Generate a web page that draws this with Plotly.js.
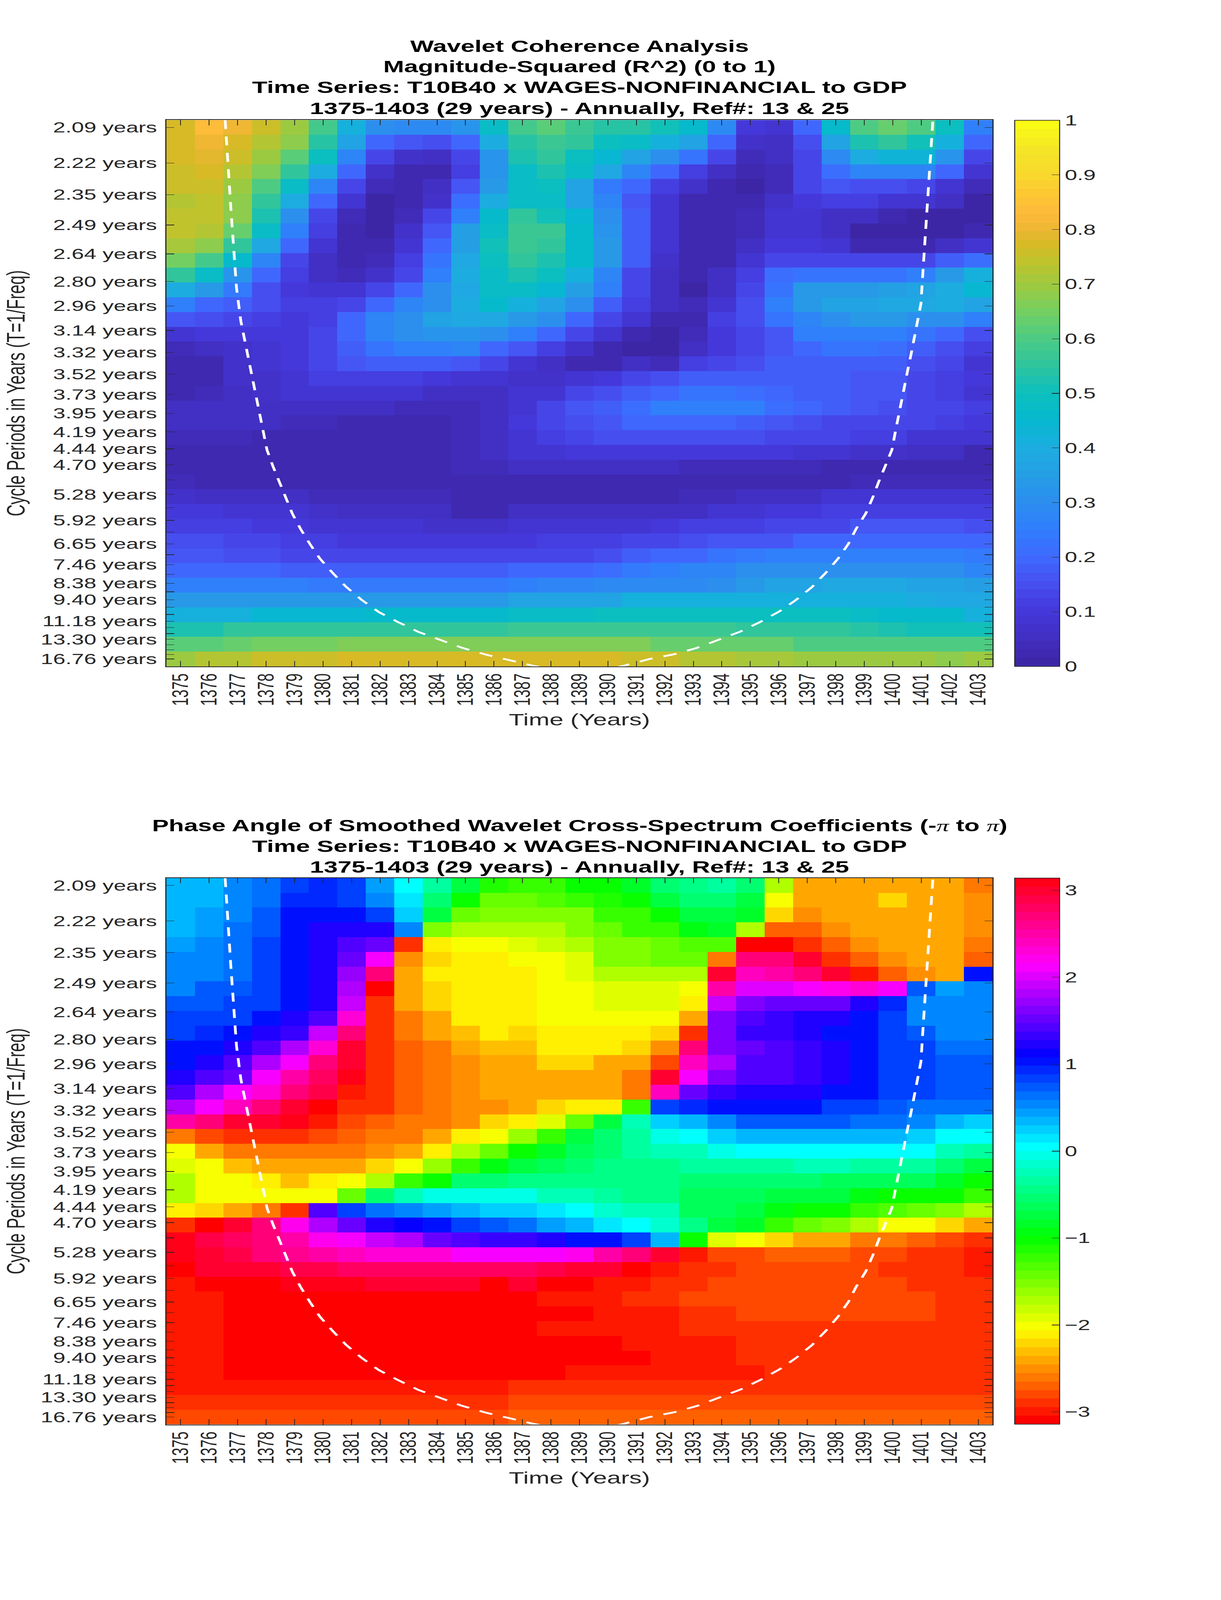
<!DOCTYPE html>
<html>
<head>
<meta charset="utf-8">
<script src="https://cdn.plot.ly/plotly-3.0.1.min.js"></script>
<style>
  html, body { margin: 0; padding: 0; background: #fff; overflow: hidden; }
  #chart { width: 3125px; height: 6252px; transform-origin: 0 0; }
</style>
</head>
<body>
<div id="chart"></div>
<script>
const years = [1375,1376,1377,1378,1379,1380,1381,1382,1383,1384,1385,1386,1387,1388,1389,1390,1391,1392,1393,1394,1395,1396,1397,1398,1399,1400,1401,1402,1403];

// cycle periods top row -> bottom row, one tick per row
const periods = [2.09,2.22,2.35,2.49,2.64,2.80,2.96,3.14,3.32,3.52,3.73,3.95,4.19,4.44,4.70,4.98,5.28,5.59,5.92,6.27,6.65,7.05,7.46,7.91,8.38,8.88,9.40,9.96,10.55,11.18,11.84,12.55,13.30,14.09,14.92,15.81,16.76];
const labelledPeriods = [2.09,2.22,2.35,2.49,2.64,2.80,2.96,3.14,3.32,3.52,3.73,3.95,4.19,4.44,4.70,5.28,5.92,6.65,7.46,8.38,9.40,11.18,13.30,16.76];

// R^2 per row, top row first
const coherence = [
  [.78,.83,.80,.76,.69,.58,.42,.30,.29,.29,.32,.48,.59,.61,.57,.54,.54,.50,.46,.29,.10,.08,.19,.46,.60,.64,.60,.49,.25],
  [.77,.81,.77,.73,.68,.54,.37,.20,.16,.15,.20,.40,.54,.57,.55,.49,.47,.41,.36,.20,.07,.05,.15,.36,.52,.56,.51,.42,.19],
  [.77,.79,.76,.70,.62,.49,.28,.13,.07,.05,.14,.32,.52,.55,.49,.44,.36,.30,.22,.13,.04,.05,.13,.29,.40,.43,.43,.32,.13],
  [.76,.77,.73,.67,.55,.40,.20,.07,.02,.03,.12,.32,.47,.52,.47,.39,.28,.20,.11,.06,.02,.04,.13,.21,.27,.27,.27,.19,.08],
  [.75,.76,.70,.60,.47,.28,.14,.04,.02,.06,.16,.34,.48,.49,.37,.24,.20,.11,.07,.02,.01,.04,.13,.16,.15,.15,.13,.09,.04],
  [.72,.74,.68,.56,.40,.20,.09,.01,.02,.07,.21,.40,.48,.47,.37,.27,.17,.09,.03,.02,.03,.07,.10,.12,.11,.09,.08,.05,.01],
  [.74,.74,.68,.52,.31,.14,.04,.01,.04,.14,.25,.46,.55,.51,.44,.30,.18,.09,.03,.02,.04,.08,.09,.06,.05,.03,.01,.01,.01],
  [.74,.72,.64,.47,.25,.12,.03,.01,.07,.17,.35,.48,.57,.57,.46,.32,.18,.09,.03,.02,.04,.08,.08,.05,.01,.01,.01,.01,.02],
  [.71,.68,.56,.38,.19,.09,.02,.02,.09,.20,.35,.50,.57,.56,.46,.33,.18,.08,.02,.02,.05,.10,.10,.08,.03,.03,.03,.05,.08],
  [.65,.59,.46,.27,.14,.05,.03,.04,.11,.22,.38,.49,.55,.53,.46,.33,.18,.07,.02,.03,.09,.14,.14,.14,.13,.13,.14,.18,.21],
  [.56,.48,.32,.19,.12,.06,.04,.07,.14,.25,.40,.47,.52,.49,.41,.27,.14,.06,.02,.05,.12,.21,.23,.23,.23,.23,.25,.33,.41],
  [.40,.34,.24,.15,.10,.08,.09,.14,.20,.31,.39,.47,.47,.45,.35,.25,.13,.05,.01,.05,.13,.22,.33,.33,.34,.35,.37,.40,.45],
  [.25,.20,.18,.15,.11,.11,.14,.20,.27,.31,.40,.46,.41,.37,.30,.18,.11,.05,.04,.09,.15,.25,.34,.36,.37,.38,.39,.40,.37],
  [.16,.15,.14,.12,.10,.12,.19,.27,.31,.36,.39,.39,.34,.30,.20,.14,.09,.03,.03,.11,.15,.23,.28,.30,.33,.33,.30,.31,.26],
  [.09,.10,.10,.10,.10,.14,.19,.27,.30,.32,.32,.30,.26,.19,.14,.08,.03,.01,.04,.10,.14,.17,.26,.25,.25,.25,.22,.19,.15],
  [.04,.06,.07,.08,.10,.14,.18,.23,.25,.25,.27,.20,.17,.12,.07,.02,.01,.01,.05,.10,.14,.17,.20,.23,.23,.21,.18,.15,.11],
  [.02,.03,.07,.08,.10,.14,.16,.18,.18,.18,.16,.14,.09,.05,.03,.02,.05,.04,.11,.14,.15,.18,.18,.18,.18,.18,.15,.13,.09],
  [.02,.03,.07,.07,.09,.11,.12,.12,.11,.10,.09,.08,.07,.07,.09,.10,.13,.15,.18,.18,.18,.18,.18,.18,.17,.16,.14,.12,.10],
  [.03,.04,.06,.07,.08,.08,.08,.08,.08,.06,.05,.06,.08,.09,.13,.15,.18,.20,.23,.23,.21,.20,.18,.18,.17,.16,.14,.11,.09],
  [.06,.06,.06,.06,.06,.06,.05,.05,.04,.04,.04,.06,.08,.13,.16,.18,.21,.25,.26,.26,.25,.21,.19,.18,.16,.15,.14,.13,.11],
  [.06,.06,.06,.06,.04,.04,.03,.03,.03,.03,.04,.06,.10,.13,.15,.17,.20,.20,.20,.20,.18,.16,.15,.14,.14,.14,.13,.12,.10],
  [.04,.04,.04,.02,.02,.02,.02,.02,.02,.02,.04,.05,.09,.12,.13,.15,.15,.15,.15,.15,.15,.13,.13,.13,.12,.11,.09,.08,.08],
  [.02,.02,.02,.02,.02,.02,.02,.02,.02,.03,.04,.05,.09,.09,.10,.10,.10,.10,.10,.10,.10,.10,.09,.09,.07,.07,.05,.05,.03],
  [.02,.02,.02,.02,.02,.02,.02,.03,.03,.03,.04,.04,.05,.05,.05,.05,.05,.05,.04,.04,.04,.04,.04,.03,.03,.03,.03,.03,.03],
  [.04,.03,.03,.03,.03,.03,.03,.03,.03,.03,.03,.03,.03,.03,.02,.02,.02,.02,.02,.02,.02,.02,.03,.03,.04,.04,.04,.04,.04],
  [.07,.06,.05,.05,.05,.04,.04,.04,.04,.04,.02,.02,.03,.03,.02,.02,.02,.02,.04,.04,.05,.05,.05,.08,.08,.08,.08,.08,.08],
  [.10,.10,.09,.09,.08,.07,.05,.05,.05,.05,.03,.03,.05,.05,.05,.05,.05,.06,.06,.08,.09,.10,.10,.11,.12,.12,.12,.12,.12],
  [.12,.11,.11,.10,.10,.09,.09,.08,.08,.07,.07,.07,.08,.08,.08,.09,.09,.10,.12,.12,.12,.13,.14,.14,.16,.16,.16,.16,.15],
  [.15,.15,.13,.13,.12,.12,.10,.10,.10,.10,.10,.10,.10,.11,.11,.12,.13,.14,.15,.16,.16,.17,.19,.19,.19,.19,.19,.19,.19],
  [.16,.16,.15,.15,.14,.14,.13,.13,.13,.13,.13,.14,.13,.13,.14,.15,.18,.19,.20,.23,.24,.25,.25,.25,.25,.25,.25,.25,.24],
  [.20,.20,.19,.19,.18,.18,.18,.18,.18,.18,.18,.18,.19,.20,.20,.21,.24,.26,.27,.28,.30,.30,.30,.31,.31,.31,.30,.30,.28],
  [.26,.26,.25,.25,.25,.24,.24,.24,.24,.24,.24,.24,.26,.27,.27,.29,.29,.29,.29,.31,.34,.36,.37,.38,.38,.38,.37,.36,.35],
  [.33,.33,.33,.33,.33,.33,.33,.33,.33,.33,.33,.33,.36,.37,.37,.37,.42,.42,.42,.42,.42,.42,.42,.42,.41,.41,.40,.39,.38],
  [.42,.42,.42,.45,.45,.45,.45,.46,.46,.46,.46,.46,.47,.47,.47,.49,.49,.49,.49,.49,.49,.49,.49,.49,.47,.46,.46,.46,.42],
  [.53,.53,.55,.55,.55,.56,.56,.56,.56,.56,.56,.56,.57,.57,.57,.57,.57,.57,.57,.57,.55,.55,.55,.55,.54,.53,.51,.51,.51],
  [.62,.62,.63,.65,.65,.65,.66,.66,.66,.66,.66,.66,.66,.66,.66,.66,.66,.64,.64,.64,.63,.63,.60,.60,.60,.60,.60,.60,.60],
  [.70,.72,.72,.75,.75,.75,.77,.77,.77,.77,.77,.77,.77,.77,.77,.77,.75,.75,.72,.72,.71,.71,.70,.70,.70,.70,.69,.68,.70]
];

// phase angle in radians per row, top row first
const phaseAngle = [
  [.30,.38,.58,.65,.80,.90,.82,.44,0,-.38,-.70,-1.15,-1.18,-1.18,-1.05,-1.05,-.85,-.58,-.45,-.32,-.58,-1.74,-2.36,-2.36,-2.36,-2.36,-2.36,-2.44,-2.62],
  [.30,.38,.58,.65,.90,.92,.88,.58,.15,-.52,-1.05,-1.42,-1.45,-1.30,-1.18,-1.10,-1.05,-.72,-.58,-.52,-.72,-1.98,-2.36,-2.36,-2.36,-2.25,-2.36,-2.44,-2.55],
  [.38,.48,.58,.75,1.0,1.05,1.05,.88,.28,-.72,-1.42,-1.57,-1.57,-1.57,-1.48,-1.25,-1.18,-1.05,-.72,-.72,-.85,-2.25,-2.55,-2.44,-2.36,-2.36,-2.36,-2.44,-2.55],
  [.38,.48,.65,.75,1.05,1.18,1.25,1.18,.58,-1.52,-1.74,-1.74,-1.74,-1.74,-1.57,-1.45,-1.25,-1.18,-.92,-.85,-1.70,-2.72,-2.72,-2.55,-2.44,-2.36,-2.36,-2.44,-2.55],
  [.48,.58,.65,.88,1.05,1.25,1.38,1.52,-2.93,-2.09,-1.98,-1.98,-1.95,-1.83,-1.74,-1.57,-1.52,-1.45,-1.30,-1.30,-3.14,-3.14,-2.93,-2.72,-2.55,-2.44,-2.36,-2.44,-2.62],
  [.52,.58,.65,.88,1.05,1.25,1.57,2.09,-2.55,-2.20,-2.09,-2.09,-1.98,-1.98,-1.88,-1.57,-1.57,-1.45,-1.45,-2.58,2.68,2.73,3.0,-2.93,-2.72,-2.55,-2.44,-2.44,-2.72],
  [.58,.58,.65,.88,1.05,1.25,1.70,2.73,-2.44,-2.15,-2.15,-2.09,-2.09,-1.98,-1.88,-1.74,-1.74,-1.70,-1.74,2.95,2.40,2.50,2.73,2.95,-3.04,-2.72,-2.55,-2.44,1.05],
  [.58,.72,.75,.88,1.0,1.25,1.78,-3.14,-2.44,-2.25,-2.15,-2.09,-2.09,-1.98,-1.98,-1.88,-1.88,-1.88,-1.98,2.50,2.0,2.0,2.09,2.25,2.35,2.15,.72,.48,.58],
  [.72,.72,.80,.88,1.0,1.25,1.88,-2.93,-2.44,-2.25,-2.15,-2.09,-2.09,-1.98,-1.98,-1.88,-1.88,-1.88,-2.09,1.88,1.65,1.57,1.57,1.50,1.25,.92,.58,.52,.52],
  [.80,.80,.88,1.0,1.18,1.45,2.32,-2.93,-2.58,-2.40,-2.15,-2.09,-2.09,-1.98,-1.98,-1.98,-1.98,-1.98,-2.36,1.65,1.45,1.32,1.25,1.18,1.05,.80,.58,.52,.52],
  [.80,.92,1.05,1.18,1.32,1.88,2.73,-2.93,-2.65,-2.44,-2.30,-2.15,-2.25,-2.09,-2.09,-2.09,-2.09,-2.20,-2.93,1.65,1.32,1.32,1.25,1.05,1.05,.80,.72,.58,.52],
  [1.05,1.05,1.18,1.38,1.78,2.32,2.95,-2.93,-2.72,-2.58,-2.38,-2.30,-2.30,-2.15,-2.15,-2.15,-2.25,-2.50,2.73,1.65,1.50,1.38,1.32,1.18,1.05,.80,.80,.65,.65],
  [1.05,1.25,1.45,1.78,2.09,2.73,3.0,-2.93,-2.72,-2.65,-2.50,-2.36,-2.36,-2.25,-2.25,-2.36,-2.44,-2.83,2.45,1.78,1.45,1.38,1.30,1.18,1.05,.88,.80,.72,.72],
  [1.18,1.38,1.57,2.09,2.50,2.80,3.14,-2.93,-2.72,-2.65,-2.55,-2.44,-2.36,-2.36,-2.36,-2.44,-2.65,3.0,2.09,1.65,1.45,1.38,1.30,1.18,1.05,.88,.80,.72,.72],
  [1.38,1.78,2.09,2.32,2.68,2.88,-3.04,-2.93,-2.72,-2.65,-2.55,-2.44,-2.44,-2.36,-2.36,-2.44,-2.65,2.45,1.57,1.32,1.25,1.18,1.18,1.05,1.03,.88,.80,.72,.72],
  [1.83,2.09,2.40,2.73,3.0,-3.14,-2.93,-2.88,-2.72,-2.65,-2.55,-2.50,-2.36,-2.25,-2.15,-2.09,-1.18,.80,.92,1.0,1.05,1.05,1.05,.88,.80,.72,.65,.65,.65],
  [2.50,2.73,2.95,3.0,3.14,-3.04,-2.83,-2.72,-2.65,-2.58,-2.50,-2.25,-2.15,-1.88,-1.45,-.78,-.20,.20,.38,.58,.72,.72,.72,.72,.65,.65,.52,.38,.28],
  [-2.65,-2.83,-2.93,-2.93,-2.93,-2.83,-2.72,-2.65,-2.58,-2.38,-2.15,-1.98,-1.60,-1.18,-.78,-.52,-.32,-.05,.08,.20,.32,.38,.38,.38,.38,.32,.20,.08,0],
  [-2.05,-2.36,-2.58,-2.65,-2.65,-2.65,-2.58,-2.50,-2.36,-2.15,-1.74,-1.40,-1.05,-.85,-.65,-.58,-.32,-.20,-.20,-.08,0,0,.08,.08,.08,0,0,-.25,-.32],
  [-1.88,-2.05,-2.30,-2.36,-2.44,-2.44,-2.36,-2.25,-1.98,-1.60,-1.18,-.92,-.72,-.62,-.52,-.48,-.48,-.45,-.32,-.32,-.32,-.32,-.20,-.20,-.38,-.38,-.38,-.52,-.78],
  [-1.74,-1.98,-2.05,-2.15,-2.30,-2.15,-2.05,-1.74,-1.25,-1.0,-.58,-.52,-.42,-.42,-.42,-.42,-.42,-.42,-.50,-.50,-.50,-.50,-.50,-.65,-.65,-.65,-.65,-.85,-1.05],
  [-1.74,-1.98,-2.05,-2.05,-2.05,-1.98,-1.42,-.52,-.20,-.05,-.05,-.05,-.08,-.20,-.20,-.32,-.42,-.42,-.65,-.65,-.65,-.72,-.78,-.78,-.92,-1.05,-1.05,-1.05,-1.25],
  [-2.15,-2.25,-2.36,-2.58,-2.93,1.45,.88,.65,.58,.48,.38,.28,.20,.12,0,-.10,-.25,-.25,-.62,-.62,-.78,-.92,-1.05,-1.05,-1.18,-1.30,-1.42,-1.57,-1.70],
  [-2.93,-3.14,2.95,2.73,2.20,1.83,1.52,1.25,1.12,1.05,.88,.75,.65,.48,.38,.15,0,-.17,-.42,-.72,-.85,-1.18,-1.42,-1.57,-1.74,-1.98,-2.05,-2.25,-2.36],
  [3.05,2.88,2.80,2.73,2.55,2.25,2.09,1.90,1.78,1.57,1.45,1.32,1.32,1.18,1.05,1.0,.80,.38,-1.05,-1.88,-2.05,-2.25,-2.36,-2.44,-2.58,-2.65,-2.72,-2.83,-2.93],
  [3.05,2.95,2.88,2.73,2.62,2.50,2.42,2.30,2.30,2.27,2.15,2.15,2.15,2.15,2.25,2.50,2.73,3.0,-3.0,-2.83,-2.83,-2.72,-2.72,-2.72,-2.83,-2.83,-2.93,-2.93,-3.04],
  [-3.14,3.0,3.0,2.95,2.88,2.88,2.75,2.75,2.75,2.75,2.75,2.75,2.75,2.88,2.95,3.0,-3.14,-3.04,-2.93,-2.93,-2.83,-2.83,-2.83,-2.83,-2.83,-2.93,-2.93,-2.93,-3.04],
  [-3.0,-3.14,-3.14,-3.14,3.08,3.08,3.08,3.0,3.0,3.0,3.0,-3.14,3.0,-3.14,-3.14,-3.04,-3.04,-2.93,-2.93,-2.83,-2.83,-2.83,-2.83,-2.83,-2.83,-2.83,-2.93,-2.93,-2.93],
  [-3.0,-3.0,-3.14,-3.14,-3.14,-3.14,-3.14,-3.14,-3.14,-3.14,-3.14,-3.14,-3.14,-3.04,-3.04,-3.04,-2.93,-2.93,-2.83,-2.83,-2.83,-2.83,-2.83,-2.83,-2.83,-2.83,-2.83,-2.93,-2.93],
  [-3.0,-3.0,-3.14,-3.14,-3.14,-3.14,-3.14,-3.14,-3.14,-3.14,-3.14,-3.14,-3.14,-3.14,-3.14,-3.04,-3.04,-3.04,-2.93,-2.93,-2.83,-2.83,-2.83,-2.83,-2.83,-2.83,-2.83,-2.93,-2.93],
  [-3.0,-3.0,-3.14,-3.14,-3.14,-3.14,-3.14,-3.14,-3.14,-3.14,-3.14,-3.14,-3.14,-3.04,-3.04,-3.04,-3.04,-3.04,-2.93,-2.93,-2.93,-2.88,-2.88,-2.88,-2.88,-2.88,-2.88,-2.93,-2.93],
  [-3.0,-3.0,-3.14,-3.14,-3.14,-3.14,-3.14,-3.14,-3.14,-3.14,-3.14,-3.14,-3.14,-3.14,-3.14,-3.14,-3.04,-3.04,-3.04,-3.04,-2.93,-2.93,-2.93,-2.93,-2.93,-2.93,-2.93,-2.93,-2.93],
  [-3.04,-3.04,-3.14,-3.14,-3.14,-3.14,-3.14,-3.14,-3.14,-3.14,-3.14,-3.14,-3.14,-3.14,-3.14,-3.14,-3.14,-3.04,-3.04,-3.04,-2.93,-2.93,-2.93,-2.93,-2.93,-2.93,-2.93,-2.93,-2.93],
  [-3.04,-3.04,-3.08,-3.08,-3.08,-3.08,-3.08,-3.08,-3.08,-3.08,-3.08,-3.08,-3.08,-3.08,-3.04,-3.04,-3.04,-3.0,-3.0,-3.0,-3.0,-2.93,-2.93,-2.93,-2.93,-2.93,-2.93,-2.93,-2.93],
  [-2.98,-2.98,-2.98,-2.98,-2.98,-2.98,-2.98,-2.98,-2.98,-2.98,-2.98,-2.98,-2.93,-2.93,-2.93,-2.93,-2.93,-2.93,-2.93,-2.93,-2.93,-2.93,-2.93,-2.93,-2.93,-2.93,-2.93,-2.93,-2.93],
  [-2.85,-2.85,-2.85,-2.85,-2.85,-2.85,-2.85,-2.85,-2.85,-2.85,-2.85,-2.85,-2.83,-2.83,-2.83,-2.83,-2.83,-2.83,-2.83,-2.83,-2.83,-2.83,-2.83,-2.83,-2.83,-2.83,-2.83,-2.75,-2.75],
  [-2.75,-2.75,-2.75,-2.75,-2.75,-2.75,-2.75,-2.75,-2.75,-2.75,-2.75,-2.75,-2.72,-2.72,-2.72,-2.72,-2.72,-2.72,-2.72,-2.72,-2.72,-2.72,-2.72,-2.72,-2.72,-2.72,-2.72,-2.72,-2.72]
];

// cone of influence, year vs frequency (1/years)
const coneLeftYear = [1376.56,1376.61,1376.68,1376.76,1376.87,1376.96,1377.11,1377.34,1377.56,1377.79,1378.03,1378.24,1378.46,1378.68,1378.92,1379.21,1379.54,1379.89,1380.34,1380.80,1381.37,1381.96,1382.62,1383.35,1384.13,1384.88,1385.72,1386.46,1387.37,1387.7];
const coneLeftFreq = [.4842,.4688,.4432,.4150,.3827,.3519,.3261,.3005,.2759,.2502,.2244,.2115,.1994,.1865,.1742,.1621,.1502,.1387,.1274,.1167,.1060,.0966,.0889,.0810,.0745,.0685,.0631,.0591,.0544,.0530];
const coneRightYear = [1390.3,1390.56,1391.44,1392.32,1393.11,1393.87,1394.64,1395.35,1396.02,1396.59,1397.16,1397.64,1398.07,1398.44,1398.71,1399.05,1399.29,1399.51,1399.74,1399.97,1400.08,1400.19,1400.30,1400.43,1400.54,1400.65,1400.77,1400.88,1400.99,1401.06,1401.14,1401.22,1401.30,1401.37,1401.41];
const coneRightFreq = [.0530,.0544,.0596,.0634,.0683,.0746,.0812,.0889,.0972,.1060,.1163,.1274,.1385,.1503,.1621,.1742,.1865,.1994,.2117,.2244,.2373,.2502,.2630,.2759,.2888,.3005,.3138,.3261,.3396,.3648,.3912,.4168,.4426,.4682,.4842];

const parulaStops = [
  [0,'#3d26a6'],[.05,'#4130c4'],[.10,'#4539dc'],[.15,'#4651f2'],[.20,'#3e6cff'],[.25,'#2f7ffb'],[.30,'#2c8eee'],
  [.35,'#249fe4'],[.40,'#1cade0'],[.45,'#05b8cf'],[.50,'#0cbfbd'],[.55,'#2ec49f'],[.60,'#4ccb85'],[.65,'#72cf62'],
  [.70,'#9cca40'],[.75,'#c4c22a'],[.78,'#d8b926'],[.80,'#e8b631'],[.83,'#fdb83b'],[.87,'#fdc733'],[.90,'#f9d52e'],
  [.95,'#f4e528'],[1,'#f9fb15']
];

const W = 3125, H = 6252;
const textColor = '#262626';
const font = 'Liberation Sans, Arial, sans-serif';

const hexToRgb = h => [1, 3, 5].map(i => parseInt(h.slice(i, i + 2), 16));

const parulaAt = t => {
    let k = 0;
    while (k < parulaStops.length - 2 && parulaStops[k + 1][0] < t) k++;
    const [t0, c0] = parulaStops[k], [t1, c1] = parulaStops[k + 1];
    const a = hexToRgb(c0), b = hexToRgb(c1), f = (t - t0) / (t1 - t0);
    return `rgb(${a.map((v, i) => Math.round(v + (b[i] - v) * f)).join(',')})`;
}

// same as hsv(64)
const hsvAt = t => {
    const h = t * 6, i = Math.floor(h) % 6, f = h - Math.floor(h);
    const up = Math.round(255 * f), down = Math.round(255 * (1 - f));
    const rgb = [[255, up, 0], [down, 255, 0], [0, 255, up], [0, down, 255], [up, 0, 255], [255, 0, down]][i];
    return `rgb(${rgb.join(',')})`;
}

// 64 flat bands, like a matlab colormap
const bands = colorOfBand => {
    const scale = [];
    for (let i = 0; i < 64; i++) {
        const c = colorOfBand(i);
        scale.push([i / 64, c], [(i + 1) / 64, c]);
    }
    return scale;
}

const topFreq = 1 / periods[0];
const bottomFreq = 1 / periods[periods.length - 1];
const rowStep = (topFreq - bottomFreq) / (periods.length - 1);

const heatmap = (z, colorscale, zmin, zmax, xaxis, yaxis, cbTop, cbTicks) => ({
    type: 'heatmap', x: years, y0: bottomFreq, dy: rowStep,
    z: z.slice().reverse(), xaxis, yaxis, colorscale, zmin, zmax,
    colorbar: {
        x: 2597 / W, xanchor: 'left', xpad: 0,
        y: 1 - cbTop / H, yanchor: 'top', ypad: 0,
        len: 2134 / H, lenmode: 'fraction',
        thickness: 115, thicknessmode: 'pixels',
        tickmode: 'array', tickvals: cbTicks, tickprefix: '\u2009',
        ticks: 'inside', ticklen: 21, tickwidth: 2, tickcolor: textColor,
        tickfont: {family: font, size: 57, color: textColor},
        outlinecolor: textColor, outlinewidth: 2.5
    }
});

const cone = (xaxis, yaxis) => ({
    type: 'scatter', mode: 'lines', xaxis, yaxis, showlegend: false, hoverinfo: 'skip',
    x: [...coneLeftYear, null, ...coneRightYear],
    y: [...coneLeftFreq, null, ...coneRightFreq],
    line: {color: '#ffffff', width: 7, dash: '35px,29px'}
});

const xAxis = (anchor, domain) => ({
    anchor, domain,
    range: [years[0] - .5, years[years.length - 1] + .5],
    tickmode: 'array', tickvals: years, ticktext: years.map(String), tickangle: -90,
    ticks: 'inside', ticklen: 21, tickwidth: 2, tickcolor: textColor, ticklabelstandoff: 2,
    tickfont: {family: font, size: 57, color: textColor},
    showline: true, mirror: 'allticks', linewidth: 2.5, linecolor: textColor,
    showgrid: false, zeroline: false,
    title: {text: 'Time (Years)', standoff: 33, font: {family: font, size: 64, color: textColor}}
});

const yAxis = (anchor, top, bottom) => ({
    anchor, domain: [1 - bottom / H, 1 - top / H],
    range: [bottomFreq - rowStep / 2, topFreq + rowStep / 2],
    tickmode: 'array', tickvals: periods.map(p => 1 / p),
    ticktext: periods.map(p => labelledPeriods.includes(p) ? `${p.toFixed(2)} years` : ''),
    ticks: 'inside', ticklen: 20, tickwidth: 2, tickcolor: textColor, ticklabelstandoff: 10,
    tickfont: {family: font, size: 57, color: textColor},
    showline: true, mirror: 'allticks', linewidth: 2.5, linecolor: textColor,
    showgrid: false, zeroline: false,
    title: {text: 'Cycle Periods in Years (T=1/Freq)', standoff: 20, font: {family: font, size: 64, color: textColor}}
});

// one annotation per title line so the line pitch can follow the original
const titleLine = (text, baseline) => ({
    text: `<b>${text}</b>`,
    xref: 'paper', yref: 'paper', x: 1483 / W, xanchor: 'center',
    y: 1 - (baseline + 13) / H, yanchor: 'bottom', showarrow: false, align: 'center',
    font: {family: font, size: 64, color: '#000000'}
});

const pi = '<span style="font-family:Liberation Serif;font-weight:normal"><i>π</i></span>';
const seriesLine = 'Time Series: T10B40 x WAGES-NONFINANCIAL to GDP';
const rangeLine = '1375-1403 (29 years) - Annually, Ref#: 13 &amp; 25';

const xDomain = [426 / W, 2540 / W];

const traces = [
    heatmap(coherence, bands(i => parulaAt(i / 63)), 0, 1, 'x', 'y', 470, [0,.1,.2,.3,.4,.5,.6,.7,.8,.9,1]),
    cone('x', 'y'),
    heatmap(phaseAngle, bands(i => hsvAt(i / 64)), -Math.PI, Math.PI, 'x2', 'y2', 3431, [-3,-2,-1,0,1,2,3]),
    cone('x2', 'y2')
];

const layout = {
    width: W, height: H,
    margin: {l: 0, r: 0, t: 0, b: 0},
    paper_bgcolor: '#ffffff', plot_bgcolor: '#ffffff',
    font: {family: font, color: textColor},
    showlegend: false,
    xaxis: xAxis('y', xDomain),
    yaxis: yAxis('x', 469, 2604),
    xaxis2: xAxis('y2', xDomain),
    yaxis2: yAxis('x2', 3431, 5566),
    annotations: [
        titleLine('Wavelet Coherence Analysis', 206),
        titleLine('Magnitude-Squared (R^2) (0 to 1)', 286),
        titleLine(seriesLine, 367),
        titleLine(rangeLine, 448),
        titleLine(`Phase Angle of Smoothed Wavelet Cross-Spectrum Coefficients (-${pi} to ${pi})`, 3251),
        titleLine(seriesLine, 3332),
        titleLine(rangeLine, 3413)
    ]
};

Plotly.newPlot('chart', traces, layout, {displayModeBar: false}).then(() => {
    // the browser window can be shorter than the 6252px layout (it was 4096 here),
    // squeeze the height so both panels stay on screen
    const fit = Math.min(1, window.innerHeight / H);
    document.getElementById('chart').style.transform = `scaleY(${fit})`;
});
</script>
</body>
</html>
